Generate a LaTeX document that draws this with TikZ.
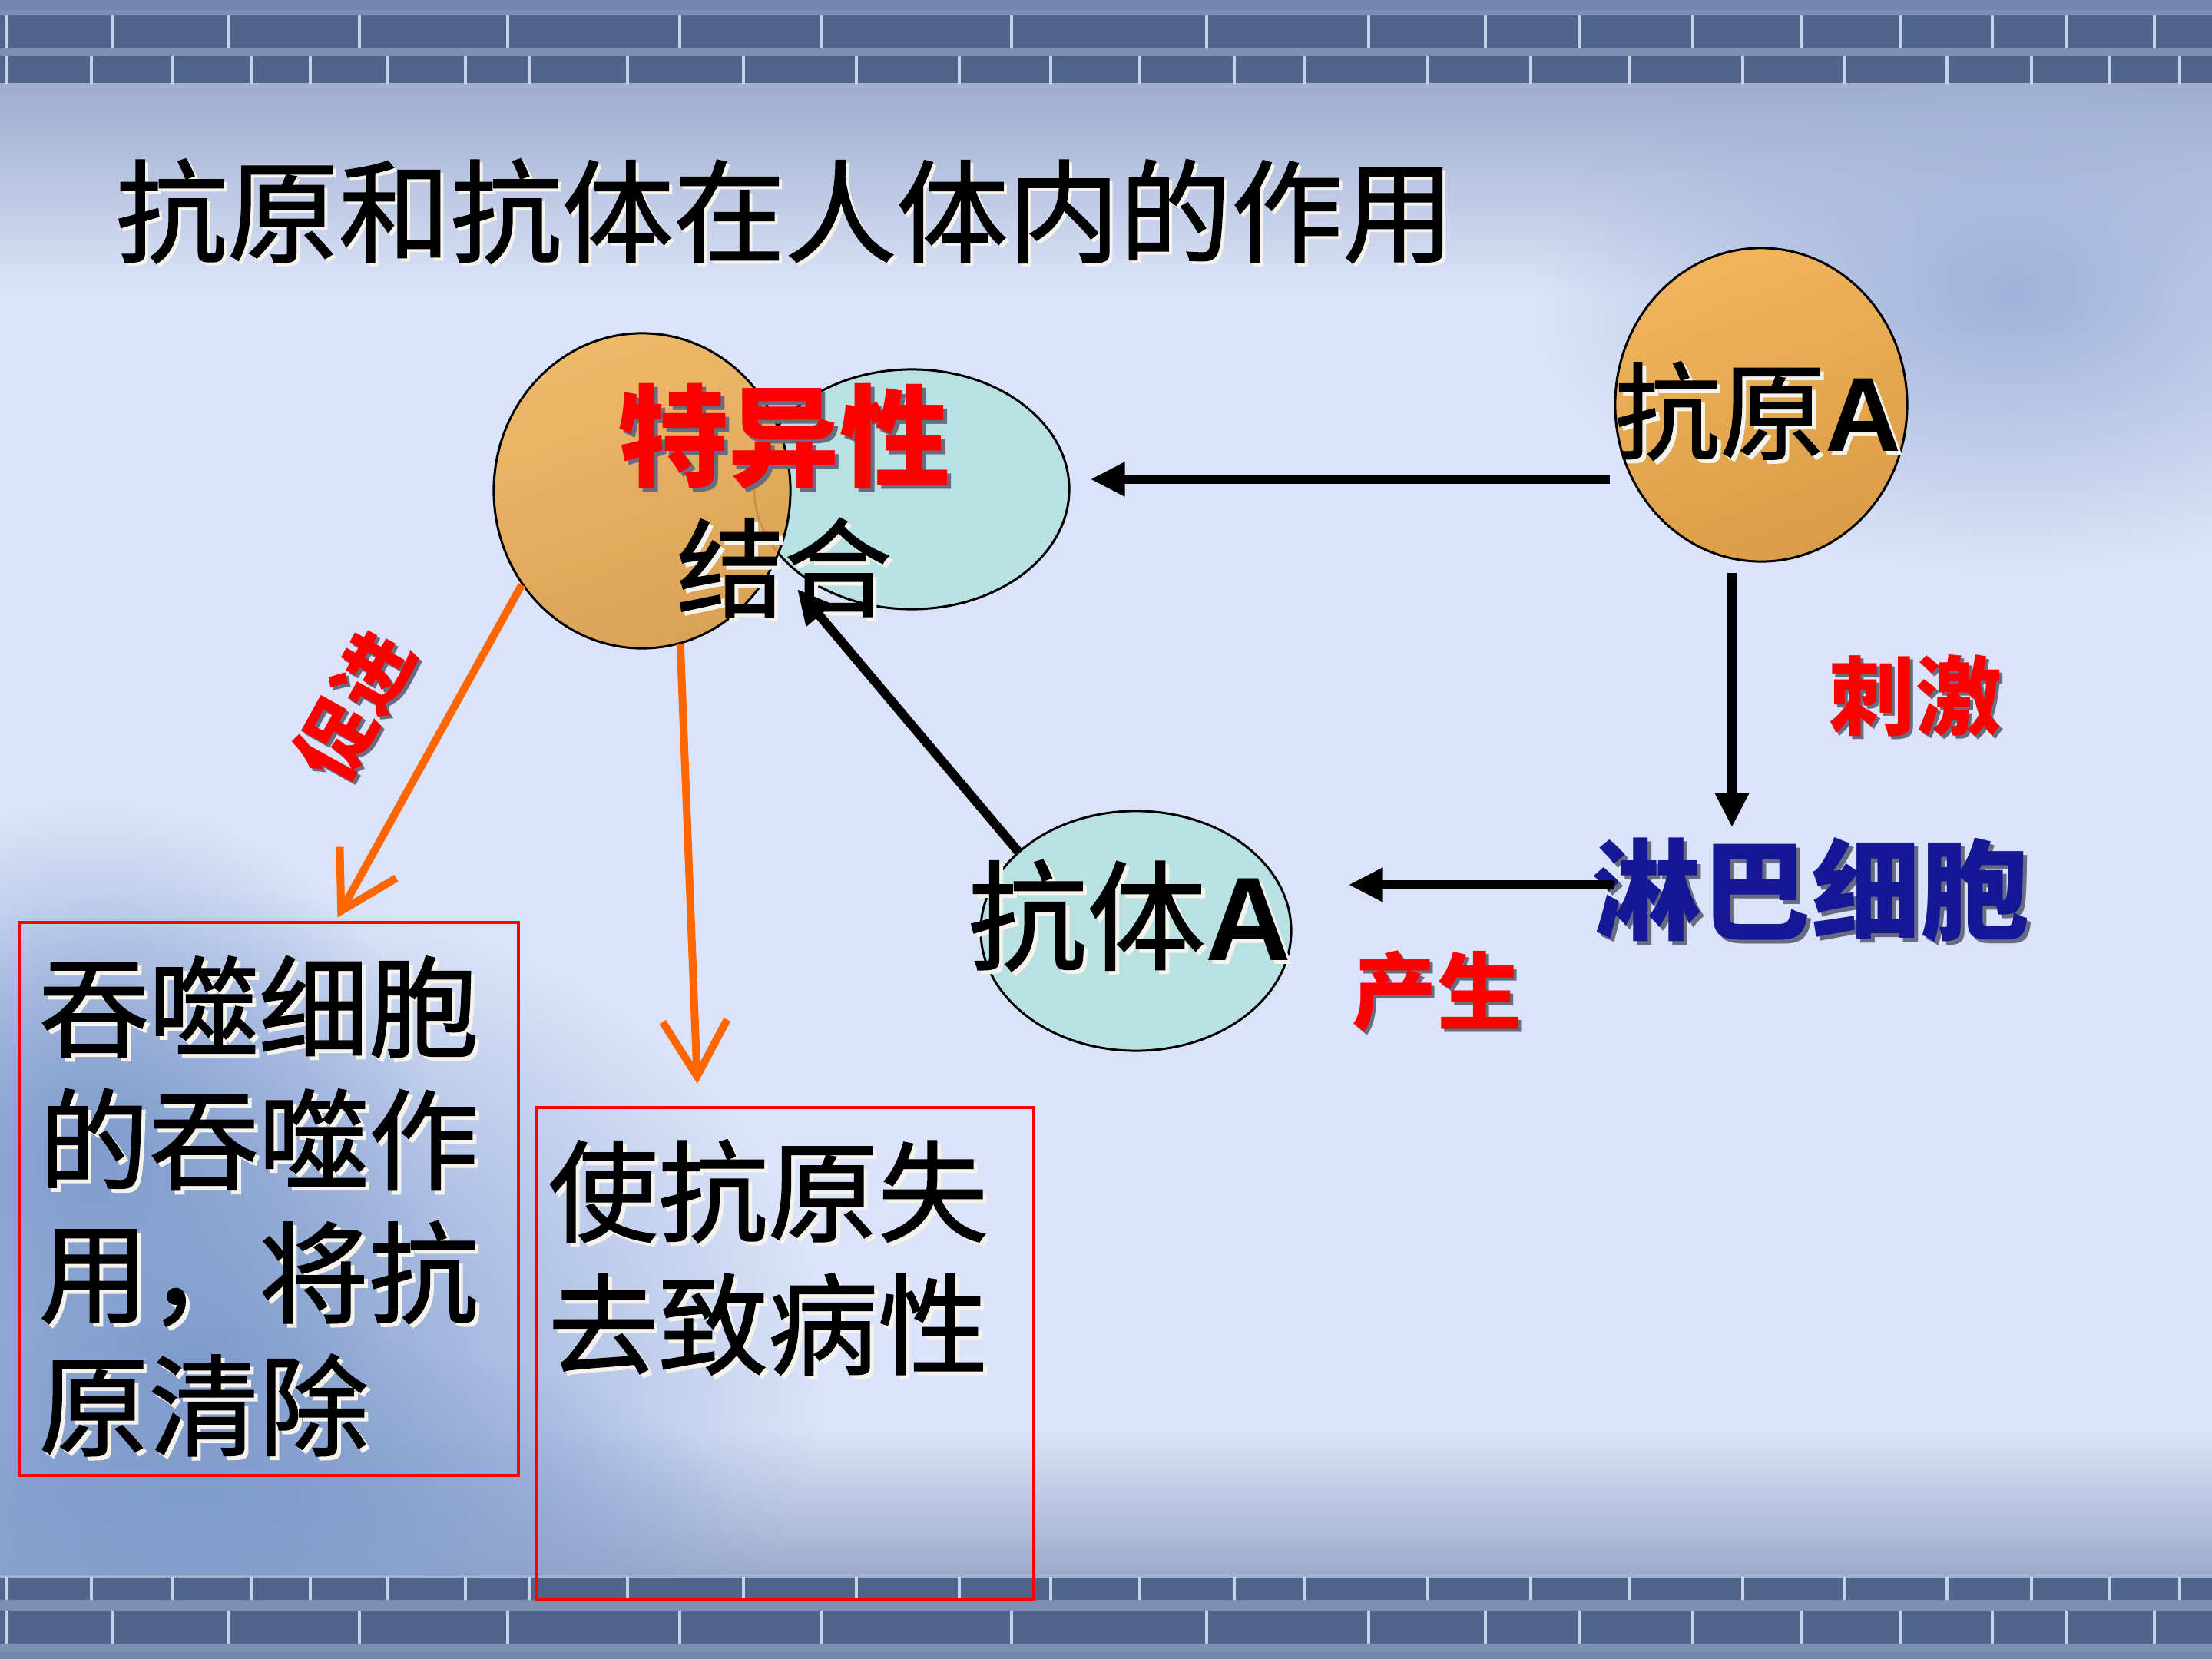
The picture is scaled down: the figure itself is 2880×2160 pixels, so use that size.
\documentclass[tikz,border=0pt]{standalone}
\usepackage{fontspec}
\setmainfont{Liberation Sans}
\newfontfamily\cjk[FakeBold=1.3]{Noto Sans CJK SC}
\newfontfamily\cjkb{Noto Sans CJK SC}
\newfontfamily\arial{Liberation Sans}
\usetikzlibrary{arrows.meta,calc,fadings,shapes.geometric}
\pgfdeclarelayer{bglayer}
\pgfdeclarelayer{cells}
\pgfdeclarelayer{conn}
\pgfsetlayers{bglayer,cells,main,conn}
\tikzfading[name=softblob, inner color=transparent!0, outer color=transparent!100]
\definecolor{bg}{RGB}{218,227,249}
\definecolor{topgrad}{RGB}{158,173,206}
\definecolor{banner}{RGB}{80,101,140}
\definecolor{bannerband}{RGB}{125,144,180}
\definecolor{bannerline}{RGB}{196,210,234}
\definecolor{blobR}{RGB}{160,178,216}
\definecolor{blobL}{RGB}{128,156,205}
\definecolor{orangefill}{RGB}{240,181,92}
\definecolor{orangedk}{RGB}{218,156,70}
\definecolor{tealfill}{RGB}{186,225,226}
\definecolor{arrowor}{RGB}{255,102,0}
\definecolor{lymblue}{RGB}{20,24,150}
\definecolor{redtxt}{RGB}{255,0,0}
\definecolor{shlt}{RGB}{246,242,236}
\definecolor{shdk}{RGB}{105,108,128}
\newcommand\F[1]{\fontsize{#1pt}{#1pt}\selectfont}
% name, position, style, shadow colour, shadow shift, text
\newcommand\stext[6]{%
  \node[#3,text=#4] (#1s) at ($(#2)+(#5)$) {#6};
  \node[#3] (#1) at (#2) {#6};}
\tikzset{
  txt/.style={inner sep=0pt},
  blacktxt/.style={txt, text=black, font=\cjk},
  redt/.style={txt, text=redtxt, font=\cjkb\bfseries},
  cell/.style={ellipse, draw=black, line width=0.85pt, inner sep=0pt},
  orcell/.style={cell, top color=orangefill, bottom color=orangedk, shading angle=20},
  tealcell/.style={cell, fill=tealfill},
  blk/.style={draw=black, line width=3.4pt, -{Triangle[length=0.45cm,width=0.42cm]}},
  orarr/.style={draw=arrowor, line width=2.85pt, -{Straight Barb[length=0.72cm,width=0.84cm]}},
  redbox/.style={draw=redtxt, line width=1pt, inner sep=0pt, anchor=north west},
  boxtxt/.style={inner sep=0pt, align=left, anchor=west, font=\cjk\fontsize{40.7pt}{49.2pt}\selectfont}
}
\begin{document}
\begin{tikzpicture}[x=0.01cm,y=-0.01cm]
\useasboundingbox (0,0) rectangle (2880,2160);
\begin{pgfonlayer}{bglayer}
% ---------- background ----------
\fill[bg] (0,0) rectangle (2880,2160);
\shade[top color=topgrad, bottom color=bg] (0,112) rectangle (2880,380);
\shade[top color=bg, bottom color=blobR!85!gray] (0,1860) rectangle (2880,2054);
\fill[blobR, path fading=softblob] (2620,380) ellipse (620 and 360);
\fill[blobL, path fading=softblob] (250,1780) ellipse (820 and 620);
\fill[blobL, path fading=softblob] (120,1500) ellipse (450 and 450);
\fill[blobL, path fading=softblob] (250,1950) ellipse (700 and 220);
% ---------- banners ----------
\fill[banner] (0,0) rectangle (2880,113);
\fill[bannerband!80!banner] (0,0) rectangle (2880,13);
\fill[bannerband] (0,13) rectangle (2880,20);
\fill[bannerband] (0,63) rectangle (2880,73);
\fill[bannerband!60!bg] (0,108) rectangle (2880,114);
\fill[banner] (0,2053) rectangle (2880,2160);
\fill[bannerband!60!bg] (0,2050) rectangle (2880,2054);
\fill[bannerband] (0,2083) rectangle (2880,2097);
\fill[bannerband] (0,2140) rectangle (2880,2150);
\fill[bannerband!80!banner] (0,2150) rectangle (2880,2160);
\foreach \x in {9,147,298,468,661,885,1069,1317,1571,1782,1934,2057,2204,2346,2474,2594,2691,2805}
  {\draw[bannerline, line width=1.2pt] (\x,20) -- (\x,63);
   \draw[bannerline, line width=1.2pt] (\x,2097) -- (\x,2140);}
\foreach \x in {9,119,224,327,404,505,606,689,817,968,1115,1249,1368,1484,1607,1699,1859,1993,2122,2269,2401,2535,2645,2746,2838}
  {\draw[bannerline, line width=1.2pt] (\x,73) -- (\x,110);
   \draw[bannerline, line width=1.2pt] (\x,2053) -- (\x,2083);}
\end{pgfonlayer}
% ---------- cells ----------
\begin{pgfonlayer}{cells}
\node[tealcell, minimum width=4.10cm, minimum height=3.12cm] (ab1) at (1187,637) {};
\node[orcell, fill opacity=0.9, minimum width=3.86cm, minimum height=4.10cm] (ag) at (836,639) {};
\node[orcell, minimum width=3.80cm, minimum height=4.08cm] (antigen) at (2293,527) {};
\node[tealcell, minimum width=4.04cm, minimum height=3.12cm] (antibody) at (1479,1212) {};
% ---------- boxes ----------
\node[redbox, minimum width=6.50cm, minimum height=7.20cm] (box1) at (23,1199) {};
\node[redbox, minimum width=6.48cm, minimum height=6.40cm] (box2) at (696,1440) {};
\end{pgfonlayer}
% ---------- title ----------
\stext{title}{150,275}{blacktxt, anchor=west, font=\cjk\F{41.3}}{shlt}{4,4}{抗原和抗体在人体内的作用}
% ---------- labels ----------
\stext{tsp}{1021,568}{redt, font=\cjkb\bfseries\F{41}}{shdk}{5,5}{特异性}
\stext{jh}{1021,739}{blacktxt, font=\cjk\F{39.8}}{shlt}{5,5}{结合}
\stext{tA}{2289,535}{blacktxt, font=\cjk\F{39}}{shlt}{5,5}{抗原{\arial\bfseries A}}
\stext{tB}{1471,1192}{blacktxt, font=\cjk\F{44}}{shlt}{5,5}{抗体{\arial\bfseries A}}
\stext{lym}{2358,1158}{txt, text=lymblue, font=\cjkb\bfseries\F{40.4}}{shdk}{5,5}{淋巴细胞}
\stext{cj}{2494,906}{redt, font=\cjkb\bfseries\F{31.9}}{shdk}{4,4}{刺激}
\stext{cs}{1871,1291}{redt, font=\cjkb\bfseries\F{31.3}}{shdk}{4,4}{产生}
\stext{cjin}{461,918}{redt, rotate=61, font=\cjkb\bfseries\F{28.5}}{shdk}{4,4}{促进}
\stext{b1t}{50,1570}{boxtxt}{shlt}{5,5}{吞噬细胞\\的吞噬作\\用，将抗\\原清除}
\stext{b2t}{713,1637}{boxtxt}{shlt}{5,5}{使抗原失\\去致病性}
% ---------- connectors ----------
\begin{pgfonlayer}{conn}
\draw[blk, shorten <=0.05cm, shorten >=0.26cm] (antigen.west |- 0,624) -- (ab1.east |- 0,624);
\draw[blk, shorten <=0.13cm, shorten >=0.12cm] (antigen.south -| 2255,0) -- (lym.north -| 2255,0);
\draw[blk, shorten <=-0.29cm, shorten >=0.73cm] (lym.west |- 0,1152) -- (antibody.east |- 0,1152);
\draw[blk] (antibody.146) -- ($(jh.center)+(17,28)$);
\draw[orarr, shorten >=0.05cm] (ag.218) -- (box1.north -| 437,0);
\draw[orarr, shorten >=0.29cm] (ag.-76) -- (box2.north -| 909,0);
\end{pgfonlayer}
\end{tikzpicture}
\end{document}
